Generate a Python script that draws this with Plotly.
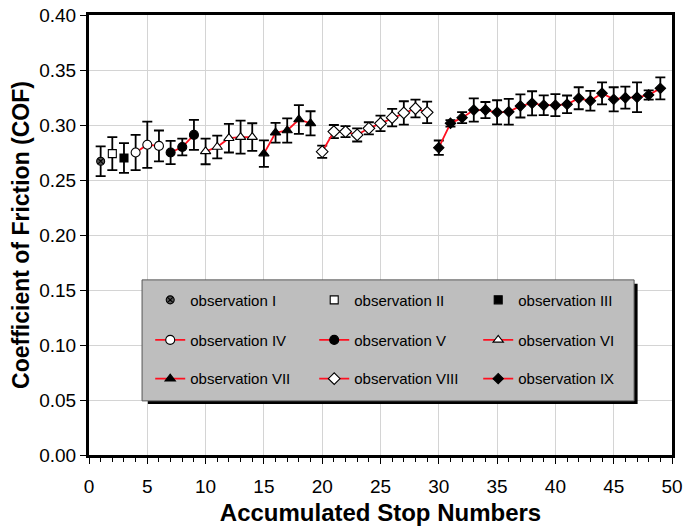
import plotly.graph_objects as go

# ---- data ----
names = ["observation I", "observation II", "observation III",
         "observation IV", "observation V", "observation VI",
         "observation VII", "observation VIII", "observation IX"]

x_I = [1]
y_I = [0.267]
e_I = [0.0135]

x_II = [2]
y_II = [0.274]
e_II = [0.015]

x_III = [3]
y_III = [0.270]
e_III = [0.0135]

x_IV = [4, 5, 6]
y_IV = [0.275, 0.282, 0.281]
e_IV = [0.016, 0.021, 0.014]

x_V = [7, 8, 9]
y_V = [0.275, 0.280, 0.291]
e_V = [0.0106, 0.0076, 0.0136]

x_VI = [10, 11, 12, 13, 14]
y_VI = [0.276, 0.280, 0.288, 0.289, 0.289]
e_VI = [0.0117, 0.0103, 0.013, 0.015, 0.0126]

x_VII = [15, 16, 17, 18, 19]
y_VII = [0.274, 0.293, 0.295, 0.305, 0.3015]
e_VII = [0.012, 0.009, 0.011, 0.013, 0.011]

x_VIII = [20, 21, 22, 23, 24, 25, 26, 27, 28, 29]
y_VIII = [0.2757, 0.294, 0.294, 0.291, 0.297, 0.3015, 0.3067, 0.311, 0.315, 0.3115]
e_VIII = [0.0056, 0.006, 0.005, 0.006, 0.0055, 0.007, 0.008, 0.0106, 0.008, 0.0098]

x_IX = list(range(30, 50))
y_IX = [0.2794, 0.3015, 0.3067, 0.3136, 0.3136, 0.3115, 0.312, 0.3173, 0.3197, 0.318,
        0.318, 0.3188, 0.3243, 0.322, 0.3288, 0.3233, 0.3248, 0.3252, 0.3273, 0.3333]
e_IX = [0.0065, 0.003, 0.005, 0.0106, 0.0073, 0.011, 0.0117, 0.0105, 0.011, 0.009,
        0.01, 0.008, 0.01, 0.009, 0.01, 0.011, 0.01, 0.0135, 0.0042, 0.01]

x_ticks = [0, 5, 10, 15, 20, 25, 30, 35, 40, 45, 50]
y_ticks = [0.00, 0.05, 0.10, 0.15, 0.20, 0.25, 0.30, 0.35, 0.40]

# ---- styles ----
series = [
    (x_I, y_I, e_I, "markers", "circle-x", "#555555", 8, "legend"),
    (x_II, y_II, e_II, "markers", "square", "white", 8, "legend"),
    (x_III, y_III, e_III, "markers", "square", "black", 8, "legend"),
    (x_IV, y_IV, e_IV, "lines+markers", "circle", "white", 9, "legend2"),
    (x_V, y_V, e_V, "lines+markers", "circle", "black", 9, "legend2"),
    (x_VI, y_VI, e_VI, "lines+markers", "triangle-up", "white", 9, "legend2"),
    (x_VII, y_VII, e_VII, "lines+markers", "triangle-up", "black", 9, "legend3"),
    (x_VIII, y_VIII, e_VIII, "lines+markers", "diamond", "white", 9, "legend3"),
    (x_IX, y_IX, e_IX, "lines+markers", "diamond", "black", 8, "legend3"),
]

fig = go.Figure()
for name, (xs, ys, es, mode, sym, col, sz, lg) in zip(names, series):
    fig.add_trace(go.Scatter(
        x=xs, y=ys, mode=mode, name=name, legend=lg,
        line=dict(color="#ff1020", width=1.8),
        marker=dict(symbol=sym, color=col, size=sz,
                    line=dict(color="black", width=1.1)),
        error_y=dict(type="data", array=es, visible=True,
                     color="black", thickness=1.8, width=5),
    ))

# legend box (shadow + grey panel)
fig.add_shape(type="rect", xref="paper", yref="paper",
              x0=0.101, x1=0.941, y0=0.116, y1=0.389,
              fillcolor="black", line=dict(width=0), layer="above")
fig.add_shape(type="rect", xref="paper", yref="paper",
              x0=0.091, x1=0.935, y0=0.123, y1=0.398,
              fillcolor="#bebebe", line=dict(color="#555555", width=1), layer="above")

leg_common = dict(orientation="h", xanchor="left", yanchor="middle",
                  bgcolor="rgba(0,0,0,0)", entrywidth=119, entrywidthmode="pixels",
                  font=dict(family="Liberation Sans, Arial, sans-serif", size=15, color="black"),
                  itemclick=False, itemdoubleclick=False)

fig.update_layout(
    width=683, height=530,
    margin=dict(l=89, r=11, t=15, b=75),
    plot_bgcolor="white", paper_bgcolor="white",
    font=dict(family="Liberation Sans, Arial, sans-serif", color="black"),
    legend=dict(x=0.105, y=0.352, **leg_common),
    legend2=dict(x=0.105, y=0.261, **leg_common),
    legend3=dict(x=0.105, y=0.173, **leg_common),
    xaxis=dict(range=[0, 50], tickvals=x_ticks, ticktext=[str(v) for v in x_ticks],
               showgrid=True, gridcolor="#d4d4d4", gridwidth=1,
               showline=True, linecolor="black", linewidth=3, mirror=True,
               ticks="outside", ticklen=6, tickwidth=1, tickcolor="black",
               minor=dict(dtick=1, ticks="outside", ticklen=4, tickcolor="black", showgrid=False),
               tickfont=dict(size=19), zeroline=False, automargin=False,
               ticklabeloverflow="allow", ticklabelstandoff=6,
               title=dict(text="<b>Accumulated Stop Numbers</b>", font=dict(size=24), standoff=9)),
    yaxis=dict(range=[0, 0.40], tickvals=y_ticks, ticktext=[f"{v:.2f}" for v in y_ticks],
               showgrid=True, gridcolor="#d4d4d4", gridwidth=1,
               showline=True, linecolor="black", linewidth=3, mirror=True,
               ticks="outside", ticklen=6, tickwidth=1, tickcolor="black",
               tickfont=dict(size=19), zeroline=False, automargin=False,
               ticklabeloverflow="allow",
               title=dict(text="<b>Coefficient of Friction (COF)</b>", font=dict(size=23), standoff=4)),
)

fig.write_html("out.html")
